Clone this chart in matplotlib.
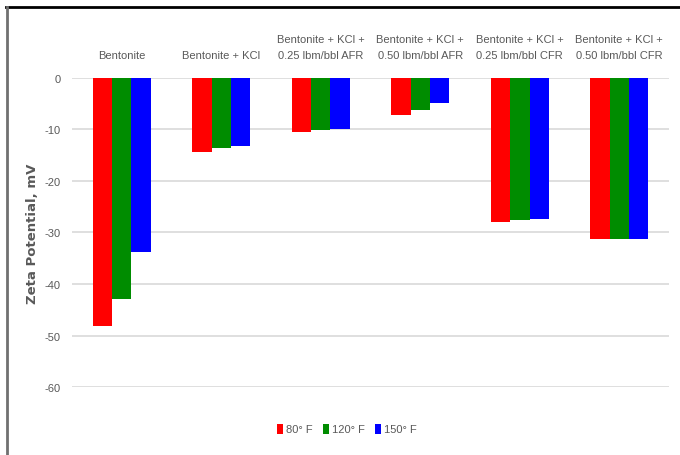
import matplotlib
matplotlib.use('Agg')
import matplotlib.pyplot as plt
import matplotlib.lines as mlines
import numpy as np

categories = ['Bentonite', 'Bentonite + KCl',
              'Bentonite + KCl +\n0.25 lbm/bbl AFR', 'Bentonite + KCl +\n0.50 lbm/bbl AFR',
              'Bentonite + KCl +\n0.25 lbm/bbl CFR', 'Bentonite + KCl +\n0.50 lbm/bbl CFR']
series_names = ['80° F', '120° F', '150° F']
vals_80 = [-48.2, -14.4, -10.5, -7.2, -28.0, -31.2]
vals_120 = [-42.9, -13.6, -10.1, -6.2, -27.6, -31.2]
vals_150 = [-33.8, -13.2, -10.0, -4.9, -27.4, -31.2]
colors = ['#ff0000', '#008c00', '#0000ff']
yticks = [0, -10, -20, -30, -40, -50, -60]

narrow = ['Liberation Sans Narrow', 'Liberation Sans', 'DejaVu Sans']
txt = '#595959'

fig = plt.figure(figsize=(6.8, 4.56), dpi=100)
ax = fig.add_axes([0.106, 0.149, 0.878, 0.678])

x = np.arange(len(categories))
w = 0.194
for i, (vals, c, name) in enumerate(zip([vals_80, vals_120, vals_150], colors, series_names)):
    ax.bar(x + (i - 1) * w, vals, w, color=c, label=name, zorder=3)

ax.set_xlim(-0.5, len(categories) - 0.5)
ax.set_ylim(-60, 0)
ax.set_yticks(yticks)
ax.set_yticklabels([str(t) for t in yticks], family=narrow, fontsize=8, color=txt)
ax.tick_params(axis='y', length=0, pad=8)
ax.xaxis.tick_top()
ax.set_xticks(x)
ax.set_xticklabels(categories, family=narrow, fontsize=8, color=txt, linespacing=1.75)
ax.tick_params(axis='x', length=0, pad=13)
ax.grid(axis='y', color='#d9d9d9', linewidth=1.2, zorder=0)
for s in ax.spines.values():
    s.set_visible(False)
ax.set_ylabel('Zeta Potential, mV', fontsize=9.5, fontweight='bold', color=txt, labelpad=4)

fig.legend(*ax.get_legend_handles_labels(), loc='center', bbox_to_anchor=(0.51, 1 - 430 / 456),
           ncol=3, frameon=False, prop={'family': narrow, 'size': 8}, handlelength=0.55,
           handleheight=1.0, handletextpad=0.25, columnspacing=0.9, labelcolor=txt)

# picture frame
fig.add_artist(mlines.Line2D([6 / 680, 1], [1 - 7.5 / 456, 1 - 7.5 / 456], color='black', lw=2, transform=fig.transFigure))
fig.add_artist(mlines.Line2D([7 / 680, 7 / 680], [0, 1 - 7.5 / 456], color='#707070', lw=2, transform=fig.transFigure))

fig.savefig('out.png', dpi=100)
